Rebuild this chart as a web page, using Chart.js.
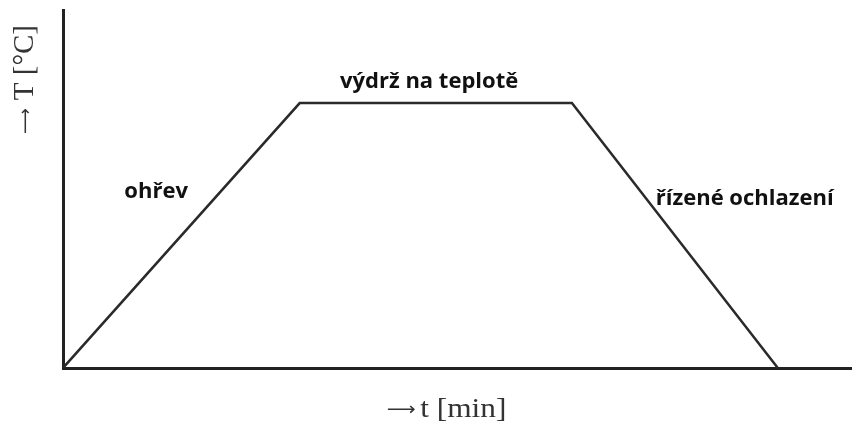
<!DOCTYPE html>
<html>
<head>
<meta charset="utf-8">
<script src="https://cdn.jsdelivr.net/npm/chart.js@4"></script>
<style>
  html, body { margin: 0; padding: 0; background: #fff; }
  #wrap { width: 852px; height: 423px; position: relative; }
</style>
</head>
<body>
<div id="wrap"><canvas id="profilChart"></canvas></div>
<script>
// Teplotní profil: čas a teplota (schematický, bez jednotek)
const casBody = [0, 30.0, 64.5, 90.6];
const teplotaBody = [0, 74.0, 74.0, 0];

// Popisky fází a jejich ukotvení v souřadnicích grafu
const faze = ['ohřev', 'výdrž na teplotě', 'řízené ochlazení'];
const fazeX = [11.8, 46.4, 86.4];
const fazeY = [47.5, 78.2, 45.5];

const osaX = 't [min]';
const osaY = 'T [°C]';

// Šipka + text názvu osy (od počátku vodorovně)
function nazevOsy(ctx, text, x, y, size, sx, gap, sipka) {
    ctx.save();
    ctx.translate(x, y);
    ctx.scale(sx, 1);
    ctx.textAlign = 'left';
    ctx.textBaseline = 'alphabetic';
    ctx.font = sipka + 'px "DejaVu Sans", sans-serif';
    ctx.fillText('⟶', -2, -2);
    const w = ctx.measureText('⟶').width;
    ctx.font = size + 'px "Liberation Serif", "DejaVu Serif", serif';
    ctx.fillText(text, w + gap - 2, 0);
    ctx.restore();
}

// Plugin pro popisky fází a názvy os
const popiskyPlugin = {
    id: 'popisky',
    afterDraw(chart) {
        const ctx = chart.ctx;
        const sx = chart.scales.x;
        const sy = chart.scales.y;
        const area = chart.chartArea;
        ctx.save();
        ctx.fillStyle = '#111';
        ctx.font = 'bold 22px "Open Sans", sans-serif';
        ctx.textAlign = 'center';
        ctx.textBaseline = 'alphabetic';
        faze.forEach((text, i) => {
            ctx.fillText(text, sx.getPixelForValue(fazeX[i]), sy.getPixelForValue(fazeY[i]));
        });

        ctx.fillStyle = '#333';
        nazevOsy(ctx, osaX, area.left + 326, area.bottom + 49, 28, 1.12, 4, 18);

        ctx.translate(area.left - 30, area.top + 122);
        ctx.rotate(-Math.PI / 2);
        nazevOsy(ctx, osaY, 0, 0, 29, 1, 8, 18);
        ctx.restore();
    }
};

const ctx = document.getElementById('profilChart');
new Chart(ctx, {
    type: 'line',
    data: {
        datasets: [{
            data: casBody.map((x, i) => ({ x: x, y: teplotaBody[i] })),
            borderColor: '#2a2a2a',
            borderWidth: 2.5,
            pointRadius: 0,
            tension: 0,
            fill: false
        }]
    },
    options: {
        responsive: true,
        maintainAspectRatio: false,
        animation: false,
        layout: {
            padding: { left: 63, top: 10, right: 0, bottom: 55 }
        },
        plugins: {
            legend: { display: false },
            tooltip: { enabled: false }
        },
        scales: {
            x: {
                type: 'linear',
                min: 0,
                max: 100,
                grid: { display: false, drawTicks: false },
                ticks: { display: false },
                border: { display: true, color: '#222', width: 3 }
            },
            y: {
                type: 'linear',
                min: 0,
                max: 100,
                grid: { display: false, drawTicks: false },
                ticks: { display: false },
                border: { display: true, color: '#222', width: 3 }
            }
        }
    },
    plugins: [popiskyPlugin]
});
</script>
</body>
</html>
